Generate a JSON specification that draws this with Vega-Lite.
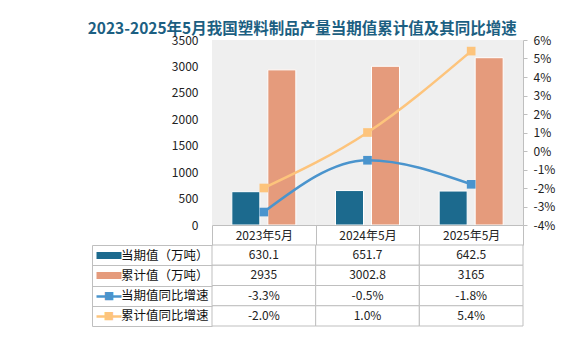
{
  "$schema": "https://vega.github.io/schema/vega-lite/v6.json",
  "background": "white",
  "padding": {"left": 69, "top": 21, "right": 5, "bottom": 5},
  "title": {
    "text": "2023-2025年5月我国塑料制品产量当期值累计值及其同比增速",
    "fontSize": 15.5,
    "fontWeight": "bold",
    "font": "Noto Sans CJK SC",
    "color": "#1c5f82",
    "anchor": "middle",
    "offset": -3,
    "dx": -10
  },
  "config": {
    "font": "Noto Sans CJK SC",
    "view": {"stroke": null},
    "axis": {"labelFont": "Noto Sans CJK SC", "labelColor": "#222222", "labelFontSize": 12, "title": null, "grid": false, "labelOverlap": false}
  },
  "datasets": {
    "main": [
      {"date": "2023年5月", "series": "当期值（万吨）", "kind": "bar", "value": 630.1, "text": "630.1"},
      {"date": "2024年5月", "series": "当期值（万吨）", "kind": "bar", "value": 651.7, "text": "651.7"},
      {"date": "2025年5月", "series": "当期值（万吨）", "kind": "bar", "value": 642.5, "text": "642.5"},
      {"date": "2023年5月", "series": "累计值（万吨）", "kind": "bar", "value": 2935, "text": "2935"},
      {"date": "2024年5月", "series": "累计值（万吨）", "kind": "bar", "value": 3002.8, "text": "3002.8"},
      {"date": "2025年5月", "series": "累计值（万吨）", "kind": "bar", "value": 3165, "text": "3165"},
      {"date": "2023年5月", "series": "当期值同比增速", "kind": "line", "value": -3.3, "text": "-3.3%"},
      {"date": "2024年5月", "series": "当期值同比增速", "kind": "line", "value": -0.5, "text": "-0.5%"},
      {"date": "2025年5月", "series": "当期值同比增速", "kind": "line", "value": -1.8, "text": "-1.8%"},
      {"date": "2023年5月", "series": "累计值同比增速", "kind": "line", "value": -2.0, "text": "-2.0%"},
      {"date": "2024年5月", "series": "累计值同比增速", "kind": "line", "value": 1.0, "text": "1.0%"},
      {"date": "2025年5月", "series": "累计值同比增速", "kind": "line", "value": 5.4, "text": "5.4%"}
    ]
  },
  "vconcat": [
    {
      "width": 311,
      "height": 185,
      "data": {"name": "main"},
      "encoding": {
        "x": {
          "field": "date",
          "type": "nominal",
          "sort": null,
          "scale": {"paddingInner": 0, "paddingOuter": 0},
          "axis": {
            "labelAngle": 0,
            "domainColor": "#bfbfbf",
            "tickColor": "#bfbfbf",
            "tickBand": "extent",
            "tickSize": 20,
            "labelPadding": -10,
            "labelBaseline": "middle",
            "labelFontSize": 12
          }
        }
      },
      "layer": [
        {
          "transform": [{"filter": "datum.series === '当期值（万吨）'"}],
          "mark": {"type": "rect", "fill": "#efefef", "stroke": null},
          "encoding": {}
        },
        {
          "transform": [{"filter": "datum.kind === 'bar'"}],
          "mark": {"type": "bar", "stroke": "white", "strokeWidth": 1},
          "encoding": {
            "xOffset": {"field": "series", "type": "nominal", "sort": null, "scale": {"paddingInner": 0.222, "paddingOuter": 0.551}},
            "y": {
              "field": "value",
              "type": "quantitative",
              "scale": {"domain": [0, 3500], "nice": false},
              "axis": {"orient": "left", "values": [0, 500, 1000, 1500, 2000, 2500, 3000, 3500], "format": "d", "domain": false, "ticks": false, "labelPadding": 14}
            },
            "color": {
              "field": "series",
              "type": "nominal",
              "scale": {"domain": ["当期值（万吨）", "累计值（万吨）", "当期值同比增速", "累计值同比增速"], "range": ["#1c6a8e", "#e59b7c", "#4a94cd", "#fdc47c"]},
              "legend": null
            }
          }
        },
        {
          "transform": [{"filter": "datum.kind === 'line'"}],
          "encoding": {
            "y": {
              "field": "value",
              "type": "quantitative",
              "scale": {"domain": [-4, 6], "nice": false},
              "axis": {"orient": "right", "values": [-4, -3, -2, -1, 0, 1, 2, 3, 4, 5, 6], "labelExpr": "datum.value + '%'", "domainColor": "#bfbfbf", "tickColor": "#bfbfbf", "tickSize": 4, "labelPadding": 6, "labelOverlap": false}
            },
            "color": {"field": "series", "type": "nominal", "legend": null}
          },
          "layer": [
            {"mark": {"type": "line", "interpolate": "monotone", "strokeWidth": 2.5}},
            {"mark": {"type": "square", "size": 75, "opacity": 1, "filled": true}}
          ]
        }
      ],
      "resolve": {"scale": {"y": "independent"}, "axis": {"y": "independent"}}
    },
    {
      "width": 311,
      "height": 81,
      "data": {"name": "main"},
      "encoding": {
        "x": {"field": "date", "type": "nominal", "sort": null, "scale": {"paddingInner": 0, "paddingOuter": 0}, "axis": null}
      },
      "layer": [
        {
          "mark": {"type": "rect", "fill": "white", "stroke": "#bfbfbf", "strokeWidth": 1},
          "encoding": {
            "y": {
              "field": "series",
              "type": "nominal",
              "sort": ["当期值（万吨）", "累计值（万吨）", "当期值同比增速", "累计值同比增速"],
              "scale": {"paddingInner": 0, "paddingOuter": 0},
              "axis": {"orient": "left", "offset": 120, "domain": true, "domainColor": "#bfbfbf", "tickBand": "extent", "tickSize": -120, "tickColor": "#bfbfbf", "labelPadding": 4, "labelAlign": "right", "labelColor": "#111111", "labelFontSize": 12.5,
                "title": ".", "titleColor": "rgba(255,255,255,0)", "titleFontSize": 10, "titlePadding": 12}
            }
          }
        },
        {
          "mark": {"type": "text", "fontSize": 12, "color": "#222222", "font": "Noto Sans CJK SC"},
          "encoding": {
            "y": {
              "field": "series",
              "type": "nominal",
              "sort": ["当期值（万吨）", "累计值（万吨）", "当期值同比增速", "累计值同比增速"],
              "scale": {"paddingInner": 0, "paddingOuter": 0},
              "axis": null
            },
            "text": {"field": "text"}
          }
        },
        {
          "mark": {"type": "text", "text": ""},
          "encoding": {
            "y": {
              "field": "series",
              "type": "nominal",
              "sort": ["当期值（万吨）", "累计值（万吨）", "当期值同比增速", "累计值同比增速"],
              "scale": {"paddingInner": 0, "paddingOuter": 0},
              "axis": {
                "orient": "left",
                "offset": 91,
                "domain": false,
                "ticks": true,
                "tickSize": 25,
                "tickCap": "butt",
                "tickWidth": {"condition": {"test": "indexof(datum.value, '同比') >= 0", "value": 2.5}, "value": 7},
                "tickColor": {"condition": [
                  {"test": "datum.value === '当期值（万吨）'", "value": "#1c6a8e"},
                  {"test": "datum.value === '累计值（万吨）'", "value": "#e59b7c"},
                  {"test": "datum.value === '当期值同比增速'", "value": "#4a94cd"}
                ], "value": "#fdc47c"},
                "labelExpr": "indexof(datum.value, '同比') >= 0 ? '■' : ''",
                "labelAlign": "center",
                "labelBaseline": "middle",
                "labelPadding": -12.5,
                "labelFont": "DejaVu Sans",
                "labelFontSize": 11,
                "labelColor": {"condition": {"test": "datum.value === '当期值同比增速'", "value": "#4a94cd"}, "value": "#fdc47c"}
              }
            }
          }
        }
      ],
      "resolve": {"scale": {"y": "independent"}, "axis": {"y": "independent"}}
    }
  ],
  "spacing": 20,
  "bounds": "flush",
  "resolve": {"scale": {"x": "independent", "color": "independent"}}
}
